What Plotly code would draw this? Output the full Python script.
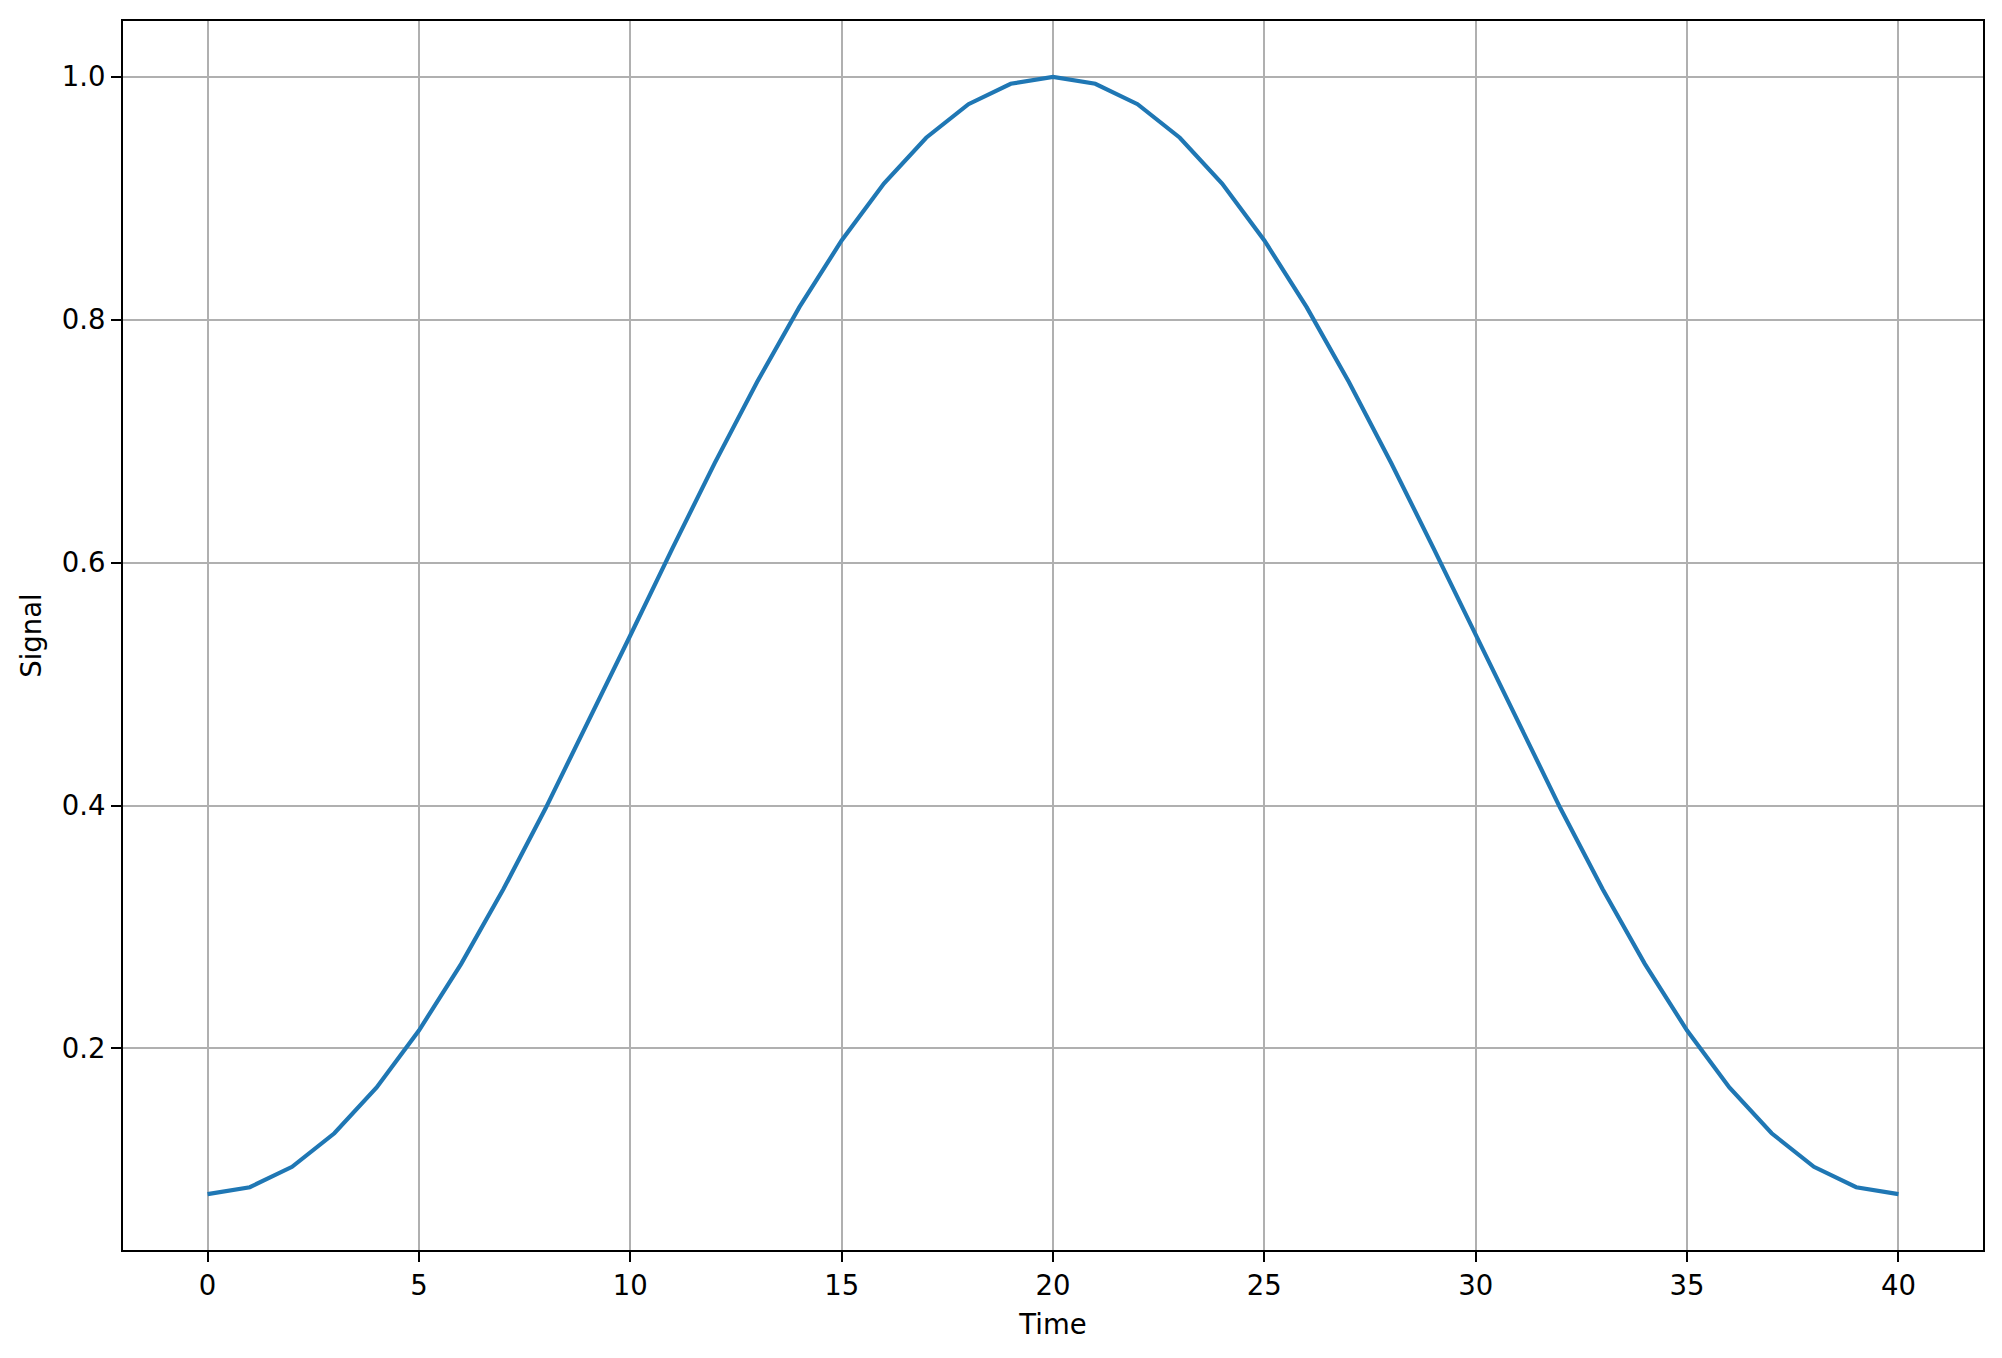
import plotly.graph_objects as go

time = list(range(41))
signal = [0.08, 0.0857, 0.1025, 0.1301, 0.1679, 0.2147, 0.2696, 0.3312, 0.3979, 0.4680,
          0.54, 0.6120, 0.6821, 0.7488, 0.8104, 0.8653, 0.9121, 0.9499, 0.9775, 0.9943,
          1.0,
          0.9943, 0.9775, 0.9499, 0.9121, 0.8653, 0.8104, 0.7488, 0.6821, 0.6120, 0.54,
          0.4680, 0.3979, 0.3312, 0.2696, 0.2147, 0.1679, 0.1301, 0.1025, 0.0857, 0.08]

x_ticks = [0, 5, 10, 15, 20, 25, 30, 35, 40]
y_ticks = [0.2, 0.4, 0.6, 0.8, 1.0]
y_tick_text = ["0.2", "0.4", "0.6", "0.8", "1.0"]

fig = go.Figure()
fig.add_trace(go.Scatter(x=time, y=signal, mode="lines",
                         line=dict(color="#1f77b4", width=4.2)))

font = dict(family="DejaVu Sans", size=27.5, color="black")
axis_common = dict(showline=True, linecolor="black", linewidth=2.2, mirror=True,
                   ticks="outside", ticklen=10, tickwidth=2.2, tickcolor="black",
                   showgrid=True, gridcolor="#b0b0b0", gridwidth=2.2,
                   zeroline=False, tickfont=font)

fig.update_layout(
    width=1994, height=1350,
    margin=dict(l=115, r=19, t=11, b=108),
    paper_bgcolor="white", plot_bgcolor="white",
    showlegend=False,
    xaxis=dict(range=[-2, 42], tickvals=x_ticks, title=dict(text="Time", font=font, standoff=15),
               **axis_common),
    yaxis=dict(range=[0.034, 1.046], tickvals=y_ticks, ticktext=y_tick_text,
               title=dict(text="Signal", font=font, standoff=12), **axis_common),
)

fig.write_html("out.html")
